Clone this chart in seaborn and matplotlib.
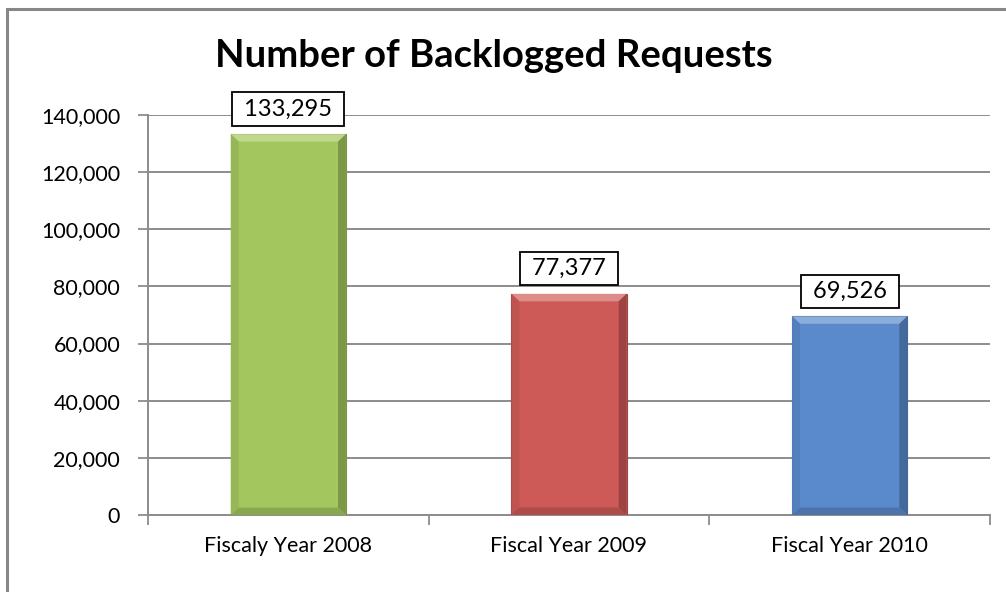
import matplotlib
matplotlib.use("Agg")
import matplotlib.pyplot as plt
import seaborn as sns
import pandas as pd
from matplotlib.patches import Polygon, Rectangle
from matplotlib.ticker import FuncFormatter, FixedLocator

categories = ["Fiscaly Year 2008", "Fiscal Year 2009", "Fiscal Year 2010"]
values = [133295, 77377, 69526]
bar_colors = ["#A3C75E", "#CE5A57", "#5A8ACC"]
title = "Number of Backlogged Requests"
yticks = [0, 20000, 40000, 60000, 80000, 100000, 120000, 140000]

sns.set_theme(style="white")
plt.rcParams["font.family"] = ["Lato", "DejaVu Sans"]

df = pd.DataFrame({"cat": categories, "val": values})

fig = plt.figure(figsize=(10.06, 5.92), dpi=100)
ax = fig.add_axes([148 / 1006, 1 - 515 / 592, (990 - 148) / 1006, 400 / 592])

sns.barplot(data=df, x="cat", y="val", hue="cat", palette=bar_colors,
            width=0.41, legend=False, ax=ax, saturation=1, zorder=3)

def shade(c, f):
    import matplotlib.colors as mc
    r, g, b = mc.to_rgb(c)
    if f > 1:
        return (r + (1 - r) * (f - 1), g + (1 - g) * (f - 1), b + (1 - b) * (f - 1))
    return (r * f, g * f, b * f)

ax.set_xlim(-0.5, 2.5)
ax.set_ylim(0, 140000)

# bevel effect derived from patch geometry
bx = 0.028
by = 2600
for p, c in zip(ax.patches, bar_colors):
    x0, w, h = p.get_x(), p.get_width(), p.get_height()
    x1 = x0 + w
    p.set_edgecolor(shade(c, 0.75))
    p.set_linewidth(0.8)
    top = Polygon([(x0, h), (x1, h), (x1 - bx, h - by), (x0 + bx, h - by)],
                  closed=True, fc=shade(c, 1.3), ec="none", zorder=4)
    left = Polygon([(x0, 0), (x0, h), (x0 + bx, h - by), (x0 + bx, by)],
                   closed=True, fc=shade(c, 0.92), ec="none", zorder=4)
    right = Polygon([(x1, 0), (x1, h), (x1 - bx, h - by), (x1 - bx, by)],
                    closed=True, fc=shade(c, 0.76), ec="none", zorder=4)
    bottom = Polygon([(x0, 0), (x1, 0), (x1 - bx, by), (x0 + bx, by)],
                     closed=True, fc=shade(c, 0.84), ec="none", zorder=4)
    for poly in (top, left, right, bottom):
        ax.add_patch(poly)

for i, v in enumerate(values):
    ax.annotate(f" {v:,} ", (i, v), xytext=(0, 10.5), textcoords="offset points",
                ha="center", va="bottom", fontsize=17, color="black", zorder=6,
                bbox=dict(boxstyle="square,pad=0.26", fc="white", ec="black", lw=1.3))

ax.set_yticks(yticks)
ax.yaxis.set_major_formatter(FuncFormatter(lambda v, p: f"{int(v):,}"))
ax.grid(axis="y", color="#8C8C8C", lw=1.4, zorder=0)
ax.set_axisbelow(True)

ax.xaxis.set_minor_locator(FixedLocator([-0.5, 0.5, 1.5, 2.5]))
ax.tick_params(axis="x", which="major", length=0, pad=15, labelsize=15.5, colors="black")
ax.tick_params(axis="x", which="minor", length=7, width=1.3, color="#8C8C8C", direction="out", bottom=True)
ax.tick_params(axis="y", which="major", length=7, width=1.3, color="#8C8C8C", direction="out",
               left=True, labelsize=15.5, pad=13, labelcolor="black")
for s in ["top", "right"]:
    ax.spines[s].set_visible(False)
for s in ["left", "bottom"]:
    ax.spines[s].set_color("#8C8C8C")
    ax.spines[s].set_linewidth(1.4)
ax.set_xlabel("")
ax.set_ylabel("")

fig.text(494 / 1006, 1 - 56 / 592, title, ha="center", va="center",
         fontsize=27.5, fontweight="bold", color="black")

# outer chart border (top and left visible)
fig.add_artist(Rectangle((7 / 1006, -0.1), 1.2, 1 - 9 / 592 + 0.1, transform=fig.transFigure,
                         fill=False, ec="#878787", lw=2.2))

fig.savefig("out.png", dpi=100)
